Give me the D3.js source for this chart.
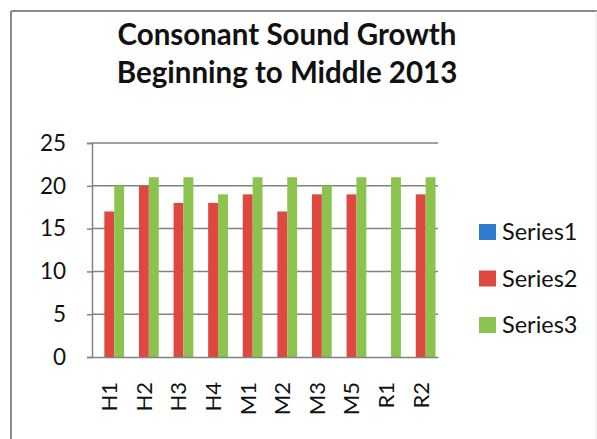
<!DOCTYPE html>
<html>
<head>
<meta charset="utf-8">
<script src="https://cdn.jsdelivr.net/npm/d3@7"></script>
<style>
  html, body { margin: 0; padding: 0; background: #fff; }
  svg { display: block; }
  text { font-family: Lato, "Open Sans", sans-serif; fill: #111; }
</style>
</head>
<body>
<svg id="chart" width="597" height="439"></svg>
<script>
const categories = ["H1", "H2", "H3", "H4", "M1", "M2", "M3", "M5", "R1", "R2"];
const seriesNames = ["Series1", "Series2", "Series3"];
const series1 = [0, 0, 0, 0, 0, 0, 0, 0, 0, 0];
const series2 = [17, 20, 18, 18, 19, 17, 19, 19, 0, 19];
const series3 = [20, 21, 21, 19, 21, 21, 20, 21, 21, 21];
const yTicks = [0, 5, 10, 15, 20, 25];
const titleLines = ["Consonant Sound Growth", "Beginning to Middle 2013"];
const colors = ["#2E7BCF", "#DF4841", "#8BC34E"];

const allSeries = [series1, series2, series3];
const svg = d3.select("#chart");
const W = 597, H = 439;

// outer chart frame
svg.append("rect").attr("x", 0).attr("y", 0).attr("width", W).attr("height", H).attr("fill", "#fff");
svg.append("line").attr("x1", 11).attr("x2", 11).attr("y1", 11).attr("y2", H)
  .attr("stroke", "#8a8a8a").attr("stroke-width", 2);
svg.append("line").attr("x1", 11).attr("x2", W).attr("y1", 11).attr("y2", 11)
  .attr("stroke", "#8a8a8a").attr("stroke-width", 2);
svg.append("line").attr("x1", 596).attr("x2", 596).attr("y1", 11).attr("y2", H)
  .attr("stroke", "#e4e4e4").attr("stroke-width", 1);

// plot area
const plot = { left: 92, right: 438, top: 143, bottom: 357 };

const x = d3.scaleBand().domain(categories).range([plot.left, plot.right]).paddingInner(0).paddingOuter(0);
const xInner = d3.scaleBand().domain(seriesNames).range([0, x.bandwidth()]).paddingOuter(0.25).paddingInner(0);
const y = d3.scaleLinear().domain([0, 25]).range([plot.bottom, plot.top]);

// gridlines
svg.append("g").selectAll("line").data(yTicks.filter(d => d > 0)).join("line")
  .attr("x1", plot.left).attr("x2", plot.right)
  .attr("y1", d => y(d)).attr("y2", d => y(d))
  .attr("stroke", "#828282").attr("stroke-width", 1.5);

// bars
const groups = svg.append("g").selectAll("g").data(seriesNames).join("g")
  .attr("fill", (d, i) => colors[i]);
groups.selectAll("rect")
  .data((name, i) => allSeries[i].map((v, j) => ({ name, cat: categories[j], v })))
  .join("rect")
  .attr("x", d => x(d.cat) + xInner(d.name))
  .attr("width", xInner.bandwidth())
  .attr("y", d => y(d.v))
  .attr("height", d => y(0) - y(d.v));

// y axis
const yAxis = svg.append("g").attr("transform", `translate(${plot.left},0)`)
  .call(d3.axisLeft(y).tickValues(yTicks).tickSize(5).tickPadding(21));
yAxis.select(".domain").attr("stroke", "#828282").attr("stroke-width", 1.5);
yAxis.selectAll(".tick line").attr("stroke", "#828282").attr("stroke-width", 1.5);
yAxis.selectAll(".tick text").attr("font-family", "Lato").attr("font-size", 22.5).attr("fill", "#111");

// x axis
const xAxis = svg.append("g").attr("transform", `translate(0,${plot.bottom})`)
  .call(d3.axisBottom(x).tickSize(0).tickPadding(0));
xAxis.select(".domain").attr("stroke", "#828282").attr("stroke-width", 1.5);
xAxis.selectAll(".tick text")
  .attr("font-family", "Lato").attr("font-size", 22).attr("fill", "#111")
  .attr("text-anchor", "end").attr("dy", "0.36em")
  .attr("transform", "translate(0,25) rotate(-90)")
  .attr("x", 0).attr("y", 0);

// title
svg.append("text").attr("x", 287).attr("y", 45).attr("text-anchor", "middle")
  .attr("font-weight", "bold").attr("font-size", 29.5).text(titleLines[0]);
svg.append("text").attr("x", 287).attr("y", 83).attr("text-anchor", "middle")
  .attr("font-weight", "bold").attr("font-size", 29.5).text(titleLines[1]);

// legend
const legendY = d3.scalePoint().domain(seriesNames).range([232, 325]);
const legend = svg.append("g").selectAll("g").data(seriesNames).join("g")
  .attr("transform", d => `translate(479,${legendY(d)})`);
legend.append("rect").attr("x", 0).attr("y", -8).attr("width", 17).attr("height", 16)
  .attr("fill", (d, i) => colors[i]);
legend.append("text").attr("x", 23).attr("dy", "0.36em").attr("font-size", 23.5).text(d => d);
</script>
</body>
</html>
